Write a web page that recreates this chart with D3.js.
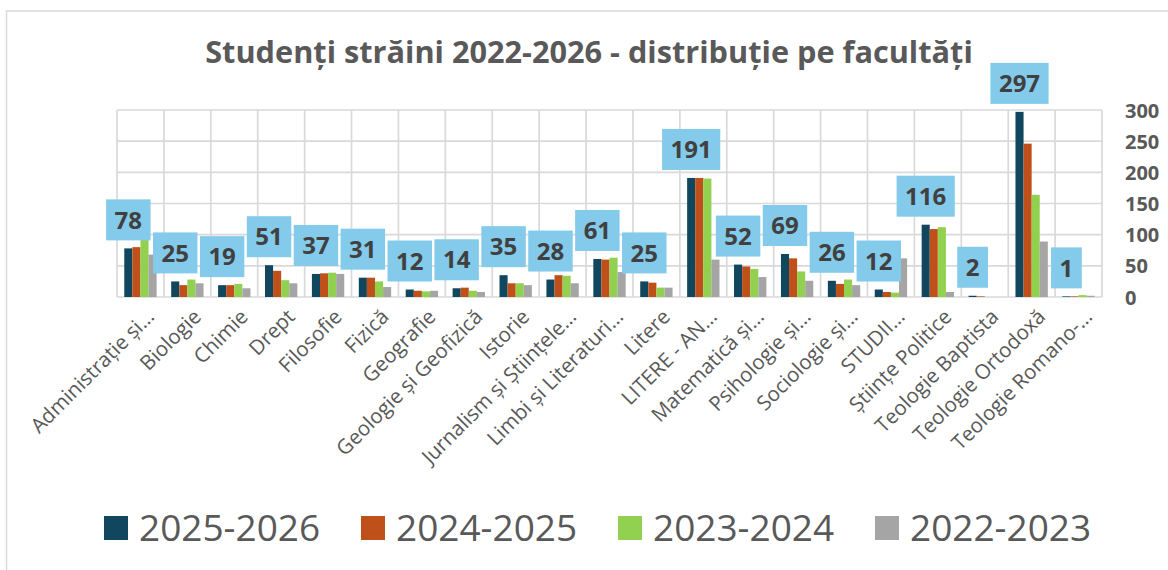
<!DOCTYPE html>
<html>
<head>
<meta charset="utf-8">
<script src="https://cdn.jsdelivr.net/npm/d3@7"></script>
<style>
  html, body { margin: 0; padding: 0; background: #ffffff; }
  svg { display: block; }
</style>
</head>
<body>
<svg id="chart" width="1168" height="570"></svg>
<script>
// Faculties (category axis)
const categories = [
  "Administrație și…", "Biologie", "Chimie", "Drept", "Filosofie", "Fizică",
  "Geografie", "Geologie și Geofizică", "Istorie", "Jurnalism și Științele…",
  "Limbi și Literaturi…", "Litere", "LITERE - AN…", "Matematică și…",
  "Psihologie și…", "Sociologie și…", "STUDII…", "Științe Politice",
  "Teologie Baptista", "Teologie Ortodoxă", "Teologie Romano-…"
];

// Academic years (series)
const seriesNames = ["2025-2026", "2024-2025", "2023-2024", "2022-2023"];

const values2025 = [78, 25, 19, 51, 37, 31, 12, 14, 35, 28, 61, 25, 191, 52, 69, 26, 12, 116, 2, 297, 1];
const values2024 = [80, 19, 19, 42, 38, 31, 10, 15, 22, 35, 60, 23, 191, 49, 62, 21, 8, 109, 1, 246, 1];
const values2023 = [92, 28, 21, 27, 39, 25, 9, 10, 22, 34, 63, 15, 190, 45, 41, 28, 7, 112, 0, 164, 3];
const values2022 = [68, 22, 14, 22, 37, 16, 10, 8, 19, 22, 40, 15, 60, 32, 26, 19, 62, 8, 0, 89, 2];

const yTicks = [0, 50, 100, 150, 200, 250, 300];

const seriesValues = [values2025, values2024, values2023, values2022];
const colors = ["#10465E", "#C0501A", "#92D050", "#A5A5A5"];

const svg = d3.select("#chart");
const textColor = "#595959";
const gridColor = "#D9D9D9";

// Chart frame
svg.append("rect")
  .attr("x", 6.5).attr("y", 11)
  .attr("width", 1200).attr("height", 600)
  .attr("fill", "none").attr("stroke", gridColor).attr("stroke-width", 1.5);

const plot = { left: 117, right: 1102, top: 110, bottom: 297 };

const x0 = d3.scaleBand().domain(categories).range([plot.left, plot.right]).paddingInner(0).paddingOuter(0);
const x1 = d3.scaleBand().domain(seriesNames).range([0, x0.bandwidth()]).paddingInner(0).paddingOuter(0.9);
const y = d3.scaleLinear().domain([0, 300]).range([plot.bottom, plot.top]);

// Horizontal gridlines
svg.append("g").selectAll("line").data(yTicks).join("line")
  .attr("x1", plot.left).attr("x2", plot.right)
  .attr("y1", d => y(d)).attr("y2", d => y(d))
  .attr("stroke", gridColor).attr("stroke-width", 1.7);

// Vertical gridlines at category boundaries
const bounds = categories.map(c => x0(c)).concat([plot.right]);
svg.append("g").selectAll("line").data(bounds).join("line")
  .attr("x1", d => d).attr("x2", d => d)
  .attr("y1", y(300)).attr("y2", y(0))
  .attr("stroke", gridColor).attr("stroke-width", 1.7);

// Right value axis
const yAxis = d3.axisRight(y).tickValues(yTicks).tickSize(0).tickPadding(0);
const yAxisG = svg.append("g").attr("transform", "translate(1125,0)").call(yAxis);
yAxisG.select(".domain").remove();
yAxisG.selectAll("text")
  .attr("x", 0).attr("dy", "0.35em")
  .attr("fill", textColor)
  .style("font-family", "'Open Sans', sans-serif")
  .style("font-weight", "700")
  .style("font-size", "20px");

// Bars
const rows = categories.map((c, i) => ({ cat: c, vals: seriesNames.map((s, k) => ({ s, v: seriesValues[k][i], k })) }));
const groups = svg.append("g").selectAll("g").data(rows).join("g")
  .attr("transform", d => `translate(${x0(d.cat)},0)`);
groups.selectAll("rect").data(d => d.vals).join("rect")
  .attr("x", d => x1(d.s))
  .attr("y", d => y(d.v))
  .attr("width", x1.bandwidth())
  .attr("height", d => y(0) - y(d.v))
  .attr("fill", d => colors[d.k]);

// Category labels, rotated
const xAxis = d3.axisBottom(x0).tickSize(0).tickPadding(0);
const xAxisG = svg.append("g").attr("transform", `translate(0,${plot.bottom})`).call(xAxis);
xAxisG.select(".domain").remove();
xAxisG.selectAll("text")
  .attr("y", 0).attr("dy", 0)
  .attr("text-anchor", "end")
  .attr("transform", "translate(15,21) rotate(-45)")
  .attr("fill", textColor)
  .style("font-family", "'Open Sans', sans-serif")
  .style("font-size", "20.5px");

// Data labels for the latest year
const labels = svg.append("g").selectAll("g").data(categories.map((c, i) => ({ cat: c, v: values2025[i] }))).join("g");
labels.each(function (d) {
  const g = d3.select(this);
  const cx = x0(d.cat) + x1(seriesNames[0]) + x1.bandwidth() / 2;
  const bottom = y(d.v) - 8;
  const t = g.append("text")
    .attr("x", cx).attr("y", bottom - 20.5)
    .attr("text-anchor", "middle").attr("dy", "0.36em")
    .attr("fill", "#404040")
    .style("font-family", "'Open Sans', sans-serif")
    .style("font-weight", "700")
    .style("font-size", "24px")
    .text(d.v);
  const w = t.node().getComputedTextLength() + 17;
  g.insert("rect", "text")
    .attr("x", cx - w / 2).attr("y", bottom - 41)
    .attr("width", w).attr("height", 41)
    .attr("fill", "#84CAEA");
});

// Title
const title = svg.append("text")
  .attr("x", 589).attr("y", 63)
  .attr("text-anchor", "middle")
  .attr("fill", textColor)
  .style("font-family", "'Open Sans', sans-serif")
  .style("font-weight", "700")
  .style("font-size", "27px")
  .text("Studenți străini 2022-2026 - distribuție pe facultăți");
const tw = title.node().getComputedTextLength();
title.style("font-size", (27 * 768 / tw).toFixed(2) + "px");

// Legend
const legend = svg.append("g").selectAll("g").data(seriesNames).join("g")
  .attr("transform", (d, i) => `translate(${104 + i * 257},516)`);
legend.append("rect")
  .attr("width", 24).attr("height", 24)
  .attr("fill", (d, i) => colors[i]);
legend.append("text")
  .attr("x", 35).attr("y", 12).attr("dy", "0.36em")
  .attr("fill", textColor)
  .style("font-family", "'Open Sans', sans-serif")
  .style("font-size", "37px")
  .text(d => d);
</script>
</body>
</html>
